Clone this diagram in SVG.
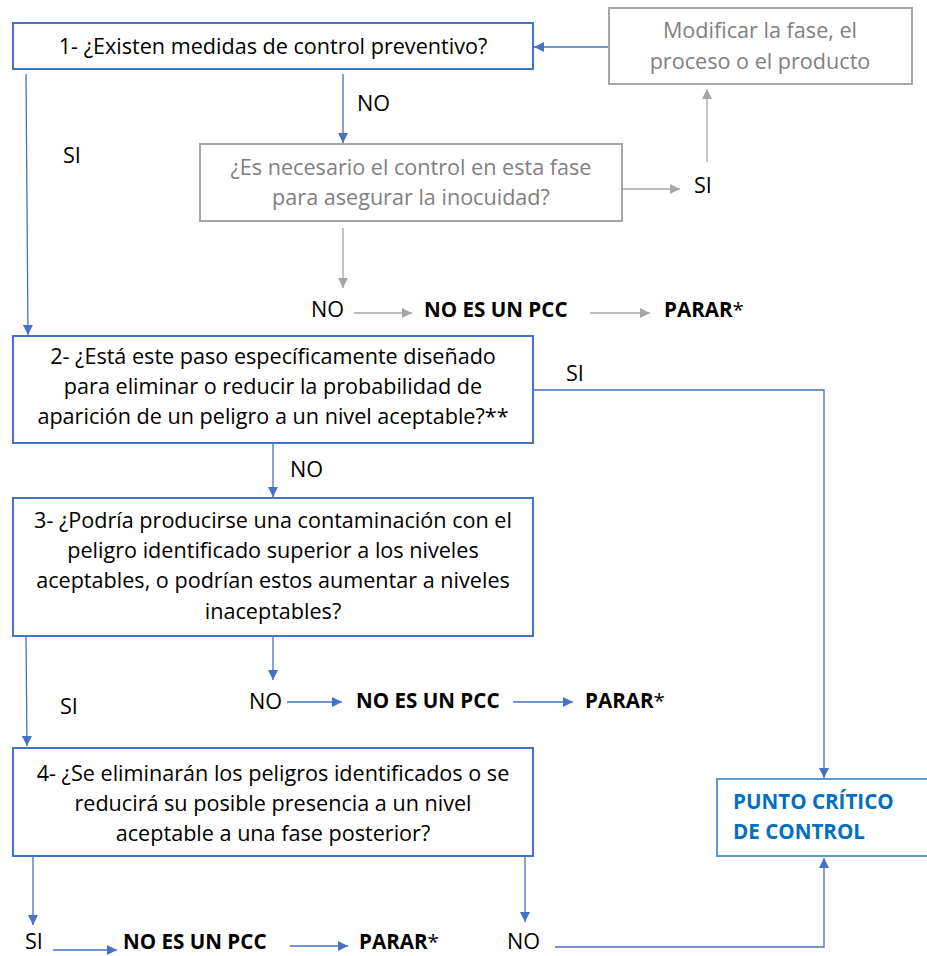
<svg xmlns="http://www.w3.org/2000/svg" width="927" height="956" viewBox="0 0 927 956">
<defs>
<style>
.t{font-family:"Open Sans","Liberation Sans",Arial,sans-serif;font-size:21.6px;fill:#000}
.c{text-anchor:middle}
.g{fill:#808080}
.b{font-weight:bold;font-size:20.6px}
.pcc{fill:#0070C0;font-weight:bold;font-size:20.6px}
.box{fill:#fff;stroke:#4472C4;stroke-width:2}
.gbox{fill:#fff;stroke:#A6A6A6;stroke-width:2}
.pbox{fill:#fff;stroke:#5B9BD5;stroke-width:2}
.cb{fill:none;stroke:#4472C4;stroke-width:1.3}
.cg{fill:none;stroke:#A6A6A6;stroke-width:1.3}
</style>
<marker id="ab" viewBox="0 0 10 10" refX="10" refY="5" markerWidth="10" markerHeight="10" markerUnits="userSpaceOnUse" orient="auto"><path d="M0,0L10,5L0,10z" fill="#4472C4"/></marker>
<marker id="ag" viewBox="0 0 10 10" refX="10" refY="5" markerWidth="10" markerHeight="10" markerUnits="userSpaceOnUse" orient="auto"><path d="M0,0L10,5L0,10z" fill="#A6A6A6"/></marker>
</defs>
<rect width="927" height="956" fill="#fff"/>
<g id="connectors">
<path class="cb" d="M609,47H534" marker-end="url(#ab)"/>
<path class="cb" d="M343,74V143" marker-end="url(#ab)"/>
<path class="cb" d="M26,74L28,335" marker-end="url(#ab)"/>
<path class="cg" d="M622,189H680" marker-end="url(#ag)"/>
<path class="cg" d="M707,162V89" marker-end="url(#ag)"/>
<path class="cg" d="M343,228V288" marker-end="url(#ag)"/>
<path class="cg" d="M354,313H412" marker-end="url(#ag)"/>
<path class="cg" d="M590,313H650" marker-end="url(#ag)"/>
<path class="cb" d="M533,390H824V778" marker-end="url(#ab)"/>
<path class="cb" d="M273,443V497" marker-end="url(#ab)"/>
<path class="cb" d="M273,636V680" marker-end="url(#ab)"/>
<path class="cb" d="M287,702H342" marker-end="url(#ab)"/>
<path class="cb" d="M513,702H573" marker-end="url(#ab)"/>
<path class="cb" d="M26,636L27,746" marker-end="url(#ab)"/>
<path class="cb" d="M33,856V925" marker-end="url(#ab)"/>
<path class="cb" d="M53,950H117" marker-end="url(#ab)"/>
<path class="cb" d="M290,946H348" marker-end="url(#ab)"/>
<path class="cb" d="M525,856V922" marker-end="url(#ab)"/>
<path class="cb" d="M555,947H824V858" marker-end="url(#ab)"/>
</g>
<g id="n1">
<rect class="box" x="13" y="23" width="520" height="46"/>
<text class="t c" x="273" y="54">1- ¿Existen medidas de control preventivo?</text>
</g>
<g id="modificar">
<rect class="gbox" x="609" y="8" width="303" height="76"/>
<text class="t c g" x="760" y="38">Modificar la fase, el</text>
<text class="t c g" x="760" y="69">proceso o el producto</text>
</g>
<g id="necesario">
<rect class="gbox" x="200" y="144" width="422" height="77"/>
<text class="t c g" x="411" y="175">¿Es necesario el control en esta fase</text>
<text class="t c g" x="411" y="205">para asegurar la inocuidad?</text>
</g>
<g id="n2">
<rect class="box" x="13" y="336" width="520" height="107"/>
<text class="t c" x="273" y="364">2- ¿Está este paso específicamente diseñado</text>
<text class="t c" x="273" y="394">para eliminar o reducir la probabilidad de</text>
<text class="t c" x="273" y="424">aparición de un peligro a un nivel aceptable?**</text>
</g>
<g id="n3">
<rect class="box" x="13" y="498" width="520" height="138"/>
<text class="t c" x="273" y="528">3- ¿Podría producirse una contaminación con el</text>
<text class="t c" x="273" y="558">peligro identificado superior a los niveles</text>
<text class="t c" x="273" y="588">aceptables, o podrían estos aumentar a niveles</text>
<text class="t c" x="273" y="619">inaceptables?</text>
</g>
<g id="n4">
<rect class="box" x="13" y="748" width="520" height="108"/>
<text class="t c" x="273" y="781">4- ¿Se eliminarán los peligros identificados o se</text>
<text class="t c" x="273" y="811">reducirá su posible presencia a un nivel</text>
<text class="t c" x="273" y="841">aceptable a una fase posterior?</text>
</g>
<g id="pcc">
<rect class="pbox" x="717" y="779" width="215" height="77"/>
<text class="t pcc" x="733" y="809">PUNTO CRÍTICO</text>
<text class="t pcc" x="733" y="839">DE CONTROL</text>
</g>
<g id="labels">
<text class="t" x="357" y="111">NO</text>
<text class="t" x="63" y="163">SI</text>
<text class="t" x="694" y="193">SI</text>
<text class="t" x="311" y="317">NO</text>
<text class="t b" x="424" y="317">NO ES UN PCC</text>
<text class="t b" x="664" y="317">PARAR<tspan font-weight="normal">*</tspan></text>
<text class="t" x="566" y="381">SI</text>
<text class="t" x="290" y="477">NO</text>
<text class="t" x="249" y="709">NO</text>
<text class="t b" x="356" y="708">NO ES UN PCC</text>
<text class="t b" x="585" y="708">PARAR<tspan font-weight="normal">*</tspan></text>
<text class="t" x="60" y="714">SI</text>
<text class="t" x="25" y="949">SI</text>
<text class="t b" x="123" y="949">NO ES UN PCC</text>
<text class="t b" x="359" y="949">PARAR<tspan font-weight="normal">*</tspan></text>
<text class="t" x="507" y="949">NO</text>
</g>
</svg>
